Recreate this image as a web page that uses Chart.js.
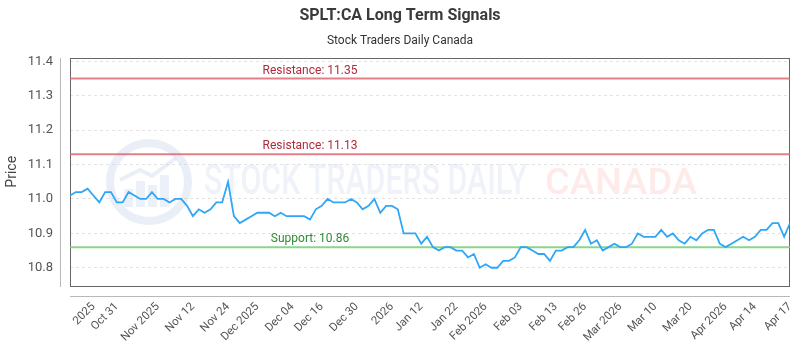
<!DOCTYPE html>
<html>
<head>
<meta charset="utf-8">
<script src="https://cdn.jsdelivr.net/npm/chart.js@4.4.1/dist/chart.umd.min.js"></script>
<style>
  html, body { margin: 0; padding: 0; background: #fff; }
  #wrap { width: 800px; height: 350px; }
</style>
</head>
<body>
<div id="wrap"><canvas id="chart"></canvas></div>
<script>
// daily closes, oldest first
var prices = [
  11.01, 11.02, 11.02, 11.03, 11.01, 10.99, 11.02, 11.02, 10.99, 10.99,
  11.02, 11.01, 11.00, 11.00, 11.02, 11.00, 11.00, 10.99, 11.00, 11.00,
  10.98, 10.95, 10.97, 10.96, 10.97, 10.99, 10.99, 11.05, 10.95, 10.93,
  10.94, 10.95, 10.96, 10.96, 10.96, 10.95, 10.96, 10.95, 10.95, 10.95,
  10.95, 10.94, 10.97, 10.98, 11.00, 10.99, 10.99, 10.99, 11.00, 10.99,
  10.97, 10.98, 11.00, 10.96, 10.98, 10.98, 10.97, 10.90, 10.90, 10.90,
  10.87, 10.89, 10.86, 10.85, 10.86, 10.86, 10.85, 10.85, 10.83, 10.84,
  10.80, 10.81, 10.80, 10.80, 10.82, 10.82, 10.83, 10.86, 10.86, 10.85,
  10.84, 10.84, 10.82, 10.85, 10.85, 10.86, 10.86, 10.88, 10.91, 10.87,
  10.88, 10.85, 10.86, 10.87, 10.86, 10.86, 10.87, 10.90, 10.89, 10.89,
  10.89, 10.91, 10.89, 10.90, 10.88, 10.87, 10.89, 10.88, 10.90, 10.91,
  10.91, 10.87, 10.86, 10.87, 10.88, 10.89, 10.88, 10.89, 10.91, 10.91,
  10.93, 10.93, 10.89, 10.93
];

var tickIndex = [4, 8, 15, 21, 27, 32, 38, 43, 49, 55, 60, 66, 71, 77, 83, 88, 94, 100, 106, 112, 117, 123];
var tickLabels = ['2025', 'Oct 31', 'Nov 2025', 'Nov 12', 'Nov 24', 'Dec 2025', 'Dec 04', 'Dec 16', 'Dec 30',
  '2026', 'Jan 12', 'Jan 22', 'Feb 2026', 'Feb 03', 'Feb 13', 'Feb 26', 'Mar 2026', 'Mar 10', 'Mar 20',
  'Apr 2026', 'Apr 14', 'Apr 17'];
var yTicks = [10.8, 10.9, 11.0, 11.1, 11.2, 11.3, 11.4];

var resistance = [11.35, 11.13];
var support = [10.86];

var FONT = 'Roboto, "Noto Sans", sans-serif';

function drawLevel(ctx, area, y, value, kind) {
  var py = y.getPixelForValue(value);
  ctx.save();
  ctx.strokeStyle = kind === 'r' ? 'rgba(222,95,105,0.8)' : 'rgba(120,205,120,0.85)';
  ctx.lineWidth = 2;
  ctx.beginPath();
  ctx.moveTo(area.left, py);
  ctx.lineTo(area.right, py);
  ctx.stroke();
  ctx.fillStyle = kind === 'r' ? '#b02a3a' : '#2f8a35';
  ctx.font = '12px ' + FONT;
  ctx.textAlign = 'center';
  ctx.textBaseline = 'bottom';
  var txt = (kind === 'r' ? 'Resistance: ' : 'Support: ') + value.toFixed(2);
  ctx.fillText(txt, 310, py - 2);
  ctx.restore();
}

function drawWatermark(ctx) {
  ctx.save();
  // round logo
  ctx.strokeStyle = 'rgba(200,212,235,0.4)';
  ctx.lineWidth = 8;
  ctx.beginPath();
  ctx.arc(149, 182, 39, 0, Math.PI * 2);
  ctx.stroke();
  ctx.fillStyle = 'rgba(200,212,235,0.35)';
  var bars = [[124, 18], [136, 26], [148, 22], [160, 32]];
  for (var b = 0; b < bars.length; b++) {
    ctx.fillRect(bars[b][0], 207 - bars[b][1], 9, bars[b][1]);
  }
  ctx.beginPath();
  ctx.lineWidth = 4;
  ctx.moveTo(120, 180); ctx.lineTo(140, 170); ctx.lineTo(152, 176); ctx.lineTo(176, 158);
  ctx.stroke();

  ctx.font = '500 42px ' + FONT;
  ctx.textBaseline = 'alphabetic';
  ctx.textAlign = 'left';
  var t1 = 'STOCK TRADERS DAILY';
  var w1 = ctx.measureText(t1).width;
  ctx.save();
  ctx.translate(204, 194);
  ctx.scale(323 / w1, 1);
  ctx.fillStyle = 'rgba(205,215,232,0.32)';
  ctx.fillText(t1, 0, 0);
  ctx.restore();
  var t2 = 'CANADA';
  var w2 = ctx.measureText(t2).width;
  ctx.save();
  ctx.translate(545, 194);
  ctx.scale(152 / w2, 0.88);
  ctx.fillStyle = 'rgba(255,150,150,0.2)';
  ctx.fillText(t2, 0, 0);
  ctx.restore();
  ctx.restore();
}

function drawFrame(chart) {
  var ctx = chart.ctx, a = chart.chartArea;
  var l = Math.round(a.left), t = Math.round(a.top), r = Math.round(a.right), btm = Math.round(a.bottom);
  ctx.save();
  ctx.fillStyle = '#666666';
  ctx.fillRect(l, t, r - l, 1);
  ctx.fillRect(l, btm, r - l, 1);
  ctx.fillRect(l, t, 1, btm - t + 1);
  ctx.fillRect(r - 1, t, 1, btm - t + 1);
  // detached axis lines
  ctx.fillStyle = '#b8b8b8';
  ctx.fillRect(l - 10, t, 1, btm - t + 1);
  ctx.fillRect(l, btm + 10, r - l, 1);
  ctx.restore();
}

var decor = {
  id: 'decor',
  beforeDatasetsDraw: function (chart) {
    var ctx = chart.ctx, area = chart.chartArea, y = chart.scales.y;
    drawWatermark(ctx);
    drawFrame(chart);
    for (var i = 0; i < resistance.length; i++) drawLevel(ctx, area, y, resistance[i], 'r');
    for (var j = 0; j < support.length; j++) drawLevel(ctx, area, y, support[j], 's');
  }
};

new Chart(document.getElementById('chart'), {
  type: 'line',
  data: {
    datasets: [{
      data: prices.map(function (v, i) { return { x: i, y: v }; }),
      borderColor: '#2fa6f6',
      borderWidth: 1.8,
      pointRadius: 0,
      tension: 0,
      fill: false,
    }],
  },
  options: {
    responsive: true,
    maintainAspectRatio: false,
    animation: false,
    layout: { padding: { left: 0, right: 0, top: 0, bottom: 0 } },
    plugins: {
      legend: { display: false },
      tooltip: { enabled: false },
      title: {
        display: true,
        text: 'SPLT:CA Long Term Signals',
        color: '#3a3a3a',
        font: { family: FONT, size: 16, weight: 'bold' },
        padding: { top: 6, bottom: 7 },
      },
      subtitle: {
        display: true,
        text: 'Stock Traders Daily Canada',
        color: '#333',
        font: { family: FONT, size: 12 },
        padding: { top: 2, bottom: 9 },
      },
    },
    scales: {
      x: {
        type: 'linear',
        min: 0,
        max: prices.length - 1,
        afterBuildTicks: function (scale) {
          scale.ticks = tickIndex.map(function (v) { return { value: v }; });
        },
        afterFit: function (scale) {
          scale.height = 64;
          scale.paddingLeft = 0;
          scale.paddingRight = 10;
        },
        grid: { display: false, drawTicks: false },
        border: { display: false },
        ticks: {
          autoSkip: false,
          minRotation: 45,
          maxRotation: 45,
          padding: 14,
          color: '#555',
          font: { family: FONT, size: 11.5 },
          callback: function (v, i) { return tickLabels[i]; },
        },
      },
      y: {
        min: 10.747,
        max: 11.411,
        afterBuildTicks: function (scale) {
          scale.ticks = yTicks.map(function (v) { return { value: v }; });
        },
        afterFit: function (scale) { scale.width = 70; },
        grid: { color: '#e2e2e2', drawTicks: false },
        border: { display: false, dash: [3, 3] },
        title: {
          display: true,
          text: 'Price',
          color: '#444',
          font: { family: FONT, size: 14 },
          padding: { top: 4, bottom: 0 },
        },
        ticks: {
          padding: 17,
          color: '#555',
          font: { family: FONT, size: 13 },
          callback: function (v) { return v.toFixed(1); },
        },
      },
    },
  },
  plugins: [decor],
});
</script>
</body>
</html>
